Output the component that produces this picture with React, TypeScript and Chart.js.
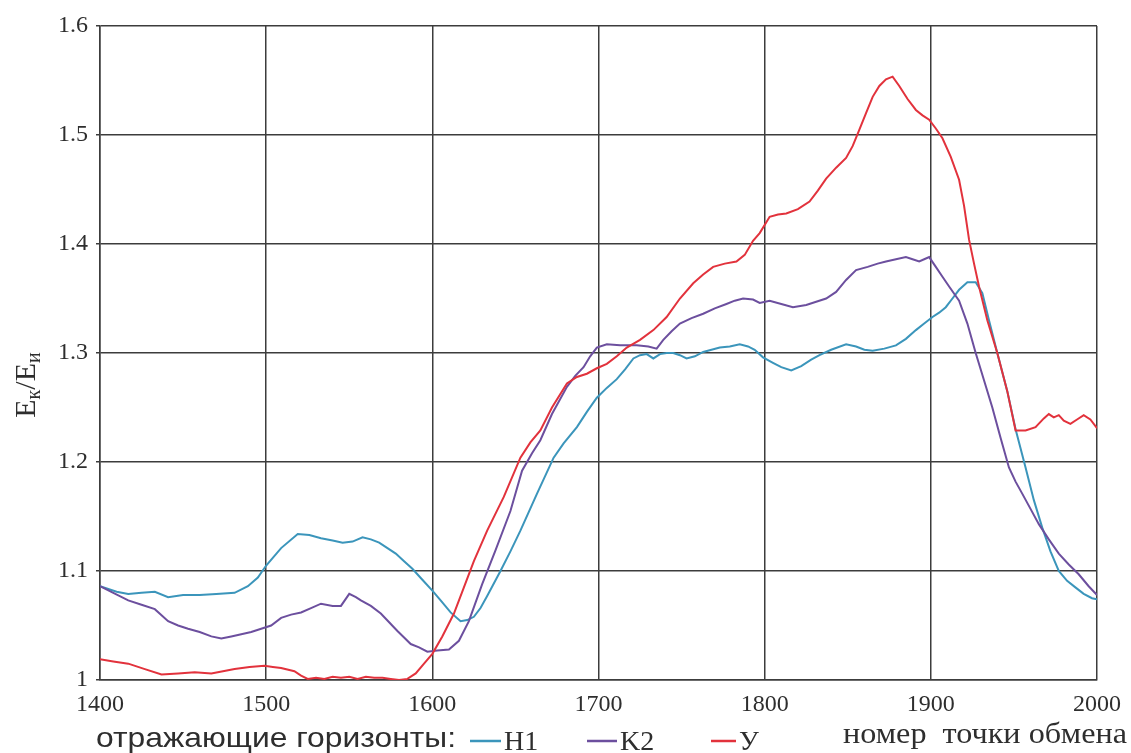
import React, { useEffect, useRef } from "react";
import { Chart, registerables } from "chart.js";

Chart.register(...registerables);

// Exchange point numbers and Ek/Ei ratios for each reflecting horizon
const h1X = [1400, 1410, 1417, 1425, 1433, 1441, 1450, 1460, 1470, 1481, 1489, 1495, 1500, 1509, 1519, 1526, 1533, 1540, 1546, 1552, 1558, 1563, 1568, 1573, 1578, 1583, 1588, 1594, 1600, 1605, 1611, 1617, 1621, 1625, 1629, 1633, 1641, 1647, 1653, 1663, 1673, 1679, 1687, 1693, 1699, 1705, 1711, 1716, 1721, 1725, 1729, 1733, 1737, 1741, 1745, 1749, 1753, 1758, 1763, 1768, 1773, 1779, 1785, 1790, 1794, 1799, 1805, 1810, 1816, 1822, 1828, 1833, 1840, 1849, 1855, 1860, 1865, 1872, 1879, 1885, 1891, 1896, 1901, 1905, 1909, 1913, 1917, 1922, 1927, 1931, 1935, 1940, 1946, 1951, 1957, 1962, 1967, 1972, 1977, 1982, 1987, 1992, 1997, 2000];
const h1Y = [1.086, 1.081, 1.079, 1.080, 1.081, 1.076, 1.078, 1.078, 1.079, 1.080, 1.086, 1.094, 1.105, 1.121, 1.134, 1.133, 1.130, 1.128, 1.126, 1.127, 1.131, 1.129, 1.126, 1.121, 1.116, 1.109, 1.102, 1.092, 1.082, 1.073, 1.062, 1.054, 1.055, 1.058, 1.066, 1.077, 1.100, 1.118, 1.137, 1.171, 1.204, 1.217, 1.232, 1.246, 1.259, 1.268, 1.276, 1.285, 1.295, 1.298, 1.299, 1.295, 1.299, 1.300, 1.300, 1.298, 1.295, 1.297, 1.301, 1.303, 1.305, 1.306, 1.308, 1.306, 1.303, 1.296, 1.291, 1.287, 1.284, 1.288, 1.294, 1.298, 1.303, 1.308, 1.306, 1.303, 1.302, 1.304, 1.307, 1.313, 1.321, 1.327, 1.333, 1.337, 1.342, 1.350, 1.358, 1.365, 1.365, 1.355, 1.330, 1.300, 1.265, 1.230, 1.195, 1.165, 1.140, 1.118, 1.100, 1.091, 1.085, 1.079, 1.075, 1.074];

const k2X = [1400, 1408, 1417, 1425, 1433, 1441, 1447, 1453, 1460, 1467, 1473, 1479, 1485, 1491, 1497, 1503, 1509, 1515, 1521, 1527, 1533, 1540, 1545, 1550, 1554, 1557, 1563, 1569, 1574, 1579, 1583, 1587, 1592, 1597, 1603, 1610, 1616, 1622, 1630, 1638, 1647, 1654, 1660, 1665, 1672, 1681, 1686, 1691, 1695, 1699, 1705, 1713, 1723, 1730, 1735, 1739, 1744, 1749, 1756, 1763, 1770, 1777, 1782, 1787, 1793, 1797, 1803, 1810, 1817, 1825, 1831, 1837, 1843, 1849, 1855, 1862, 1868, 1873, 1879, 1885, 1889, 1893, 1896, 1899, 1903, 1907, 1911, 1917, 1922, 1927, 1932, 1937, 1942, 1947, 1951, 1955, 1960, 1965, 1971, 1977, 1983, 1989, 1995, 2000];
const k2Y = [1.086, 1.080, 1.073, 1.069, 1.065, 1.054, 1.050, 1.047, 1.044, 1.040, 1.038, 1.040, 1.042, 1.044, 1.047, 1.050, 1.057, 1.060, 1.062, 1.066, 1.070, 1.068, 1.068, 1.079, 1.076, 1.073, 1.068, 1.061, 1.053, 1.045, 1.039, 1.033, 1.030, 1.026, 1.027, 1.028, 1.036, 1.054, 1.088, 1.119, 1.155, 1.192, 1.208, 1.220, 1.244, 1.269, 1.279, 1.287, 1.297, 1.305, 1.308, 1.307, 1.307, 1.306, 1.304, 1.312, 1.320, 1.327, 1.332, 1.336, 1.341, 1.345, 1.348, 1.350, 1.349, 1.346, 1.348, 1.345, 1.342, 1.344, 1.347, 1.350, 1.356, 1.367, 1.376, 1.379, 1.382, 1.384, 1.386, 1.388, 1.386, 1.384, 1.386, 1.388, 1.379, 1.370, 1.361, 1.348, 1.327, 1.300, 1.275, 1.250, 1.222, 1.195, 1.182, 1.171, 1.157, 1.143, 1.129, 1.116, 1.106, 1.097, 1.086, 1.078];

const uX = [1400, 1408, 1417, 1427, 1437, 1447, 1457, 1467, 1474, 1481, 1490, 1499, 1504, 1509, 1517, 1521, 1525, 1530, 1535, 1540, 1545, 1550, 1555, 1560, 1565, 1570, 1575, 1580, 1585, 1590, 1595, 1600, 1606, 1613, 1619, 1625, 1633, 1643, 1653, 1659, 1665, 1672, 1681, 1687, 1693, 1699, 1705, 1711, 1717, 1725, 1733, 1741, 1749, 1757, 1763, 1769, 1776, 1783, 1788, 1793, 1797, 1803, 1808, 1813, 1820, 1827, 1832, 1837, 1843, 1849, 1853, 1857, 1861, 1865, 1869, 1873, 1877, 1881, 1886, 1891, 1895, 1899, 1903, 1907, 1912, 1917, 1920, 1923, 1926, 1929, 1934, 1940, 1946, 1951, 1957, 1963, 1968, 1971, 1974, 1977, 1980, 1984, 1988, 1992, 1996, 2000];
const uY = [1.019, 1.017, 1.015, 1.010, 1.005, 1.006, 1.007, 1.006, 1.008, 1.010, 1.012, 1.013, 1.012, 1.011, 1.008, 1.004, 1.001, 1.002, 1.001, 1.003, 1.002, 1.003, 1.001, 1.003, 1.002, 1.002, 1.001, 1.000, 1.001, 1.006, 1.015, 1.024, 1.040, 1.061, 1.085, 1.109, 1.137, 1.168, 1.204, 1.218, 1.229, 1.250, 1.272, 1.278, 1.281, 1.286, 1.290, 1.297, 1.305, 1.312, 1.321, 1.333, 1.350, 1.364, 1.372, 1.379, 1.382, 1.384, 1.390, 1.403, 1.410, 1.425, 1.427, 1.428, 1.432, 1.439, 1.449, 1.460, 1.470, 1.479, 1.490, 1.505, 1.520, 1.535, 1.545, 1.551, 1.5535, 1.545, 1.533, 1.523, 1.518, 1.514, 1.506, 1.497, 1.480, 1.459, 1.435, 1.404, 1.382, 1.361, 1.330, 1.300, 1.265, 1.229, 1.229, 1.232, 1.240, 1.244, 1.241, 1.243, 1.238, 1.235, 1.239, 1.243, 1.239, 1.231];

const seriesNames = ["H1", "K2", "У"];
const seriesColors = ["#3b95bb", "#6c4f9e", "#e2323c"];

const xMin = 1400;
const xMax = 2000;
const xStep = 100;
const yMin = 1;
const yMax = 1.6;
const yStep = 0.1;

const xTitle = "номер  точки обмена";
const legendCaption = "отражающие горизонты:";

const INK = "#2e2e2e";
const GRID = "#3c3c3c";
const SERIF = "'Liberation Serif', 'DejaVu Serif', serif";
const SANS = "'Liberation Sans', Arial, sans-serif";

const zip = (xs: number[], ys: number[]) => xs.map((x, i) => ({ x, y: ys[i] }));

// Draws text squeezed or stretched to an exact width
function drawFitted(ctx: CanvasRenderingContext2D, text: string, x: number, y: number, width: number, font: string) {
  ctx.save();
  ctx.font = font;
  const w = ctx.measureText(text).width;
  ctx.translate(x, y);
  ctx.scale(width / w, 1);
  ctx.textAlign = "left";
  ctx.textBaseline = "middle";
  ctx.fillText(text, 0, 0);
  ctx.restore();
}

const annotations = {
  id: "annotations",
  afterDraw(chart: any) {
    const ctx: CanvasRenderingContext2D = chart.ctx;
    ctx.save();
    ctx.fillStyle = INK;

    // vertical axis title E_к / E_и with subscripts
    ctx.translate(25, 385);
    ctx.rotate(-Math.PI / 2);
    const parts: [string, boolean][] = [["E", false], ["к", true], ["/", false], ["E", false], ["и", true]];
    const mainFont = `30px ${SERIF}`;
    const subFont = `20px ${SERIF}`;
    let total = 0;
    for (const [t, sub] of parts) {
      ctx.font = sub ? subFont : mainFont;
      total += ctx.measureText(t).width;
    }
    let cx = -total / 2;
    ctx.textBaseline = "alphabetic";
    ctx.textAlign = "left";
    for (const [t, sub] of parts) {
      ctx.font = sub ? subFont : mainFont;
      ctx.fillText(t, cx, sub ? 15 : 10);
      cx += ctx.measureText(t).width;
    }
    ctx.restore();

    ctx.save();
    ctx.fillStyle = INK;
    // horizontal axis title
    drawFitted(ctx, xTitle, 843, 735, 284, `29px ${SERIF}`);
    // legend caption
    drawFitted(ctx, legendCaption, 96, 739, 360, `28px ${SANS}`);

    // legend entries: coloured dash followed by the horizon name
    const entries = [
      { x0: 470, x1: 501, tx: 504 },
      { x0: 587, x1: 617, tx: 620 },
      { x0: 711, x1: 736, tx: 739 },
    ];
    entries.forEach((e, i) => {
      ctx.strokeStyle = seriesColors[i];
      ctx.lineWidth = 2.5;
      ctx.beginPath();
      ctx.moveTo(e.x0, 741);
      ctx.lineTo(e.x1, 741);
      ctx.stroke();
      ctx.fillStyle = INK;
      ctx.font = `28px ${SERIF}`;
      ctx.textAlign = "left";
      ctx.textBaseline = "alphabetic";
      ctx.fillText(seriesNames[i], e.tx, 750);
    });
    ctx.restore();
  },
};

export default function App() {
  const canvasRef = useRef<HTMLCanvasElement | null>(null);

  useEffect(() => {
    const canvas = canvasRef.current;
    if (!canvas) return;

    const series = [
      { label: seriesNames[2], data: zip(uX, uY), color: seriesColors[2] },
      { label: seriesNames[1], data: zip(k2X, k2Y), color: seriesColors[1] },
      { label: seriesNames[0], data: zip(h1X, h1Y), color: seriesColors[0] },
    ];

    const chart = new Chart(canvas, {
      type: "line",
      data: {
        datasets: series.map((s) => ({
          label: s.label,
          data: s.data,
          borderColor: s.color,
          backgroundColor: s.color,
          borderWidth: 2,
          pointRadius: 0,
          tension: 0,
          fill: false,
        })),
      },
      options: {
        responsive: false,
        animation: false,
        layout: { padding: { left: 0, right: 34, top: 26, bottom: 0 } },
        plugins: {
          legend: { display: false },
          tooltip: { enabled: false },
        },
        scales: {
          x: {
            type: "linear",
            min: xMin,
            max: xMax,
            afterFit: (scale: any) => {
              scale.height = 73;
            },
            ticks: {
              stepSize: xStep,
              color: INK,
              padding: 10,
              maxRotation: 0,
              font: { family: SERIF, size: 24 },
              callback: (v: any) => String(v),
            },
            grid: { color: GRID, lineWidth: 1.5, drawTicks: false },
            border: { color: GRID, width: 1.5 },
          },
          y: {
            type: "linear",
            min: yMin,
            max: yMax,
            afterFit: (scale: any) => {
              scale.width = 100;
            },
            ticks: {
              stepSize: yStep,
              color: INK,
              padding: 8,
              font: { family: SERIF, size: 24 },
              callback: (v: any) => String(Math.round(Number(v) * 10) / 10),
            },
            grid: { color: GRID, lineWidth: 1.5, tickLength: 4 },
            border: { color: GRID, width: 1.5 },
          },
        },
      },
      plugins: [annotations],
    });

    return () => chart.destroy();
  }, []);

  return (
    <div style={{ position: "absolute", left: 0, top: 0, width: 1131, height: 753, background: "#ffffff" }}>
      <canvas ref={canvasRef} width={1131} height={753} style={{ display: "block" }} />
    </div>
  );
}
